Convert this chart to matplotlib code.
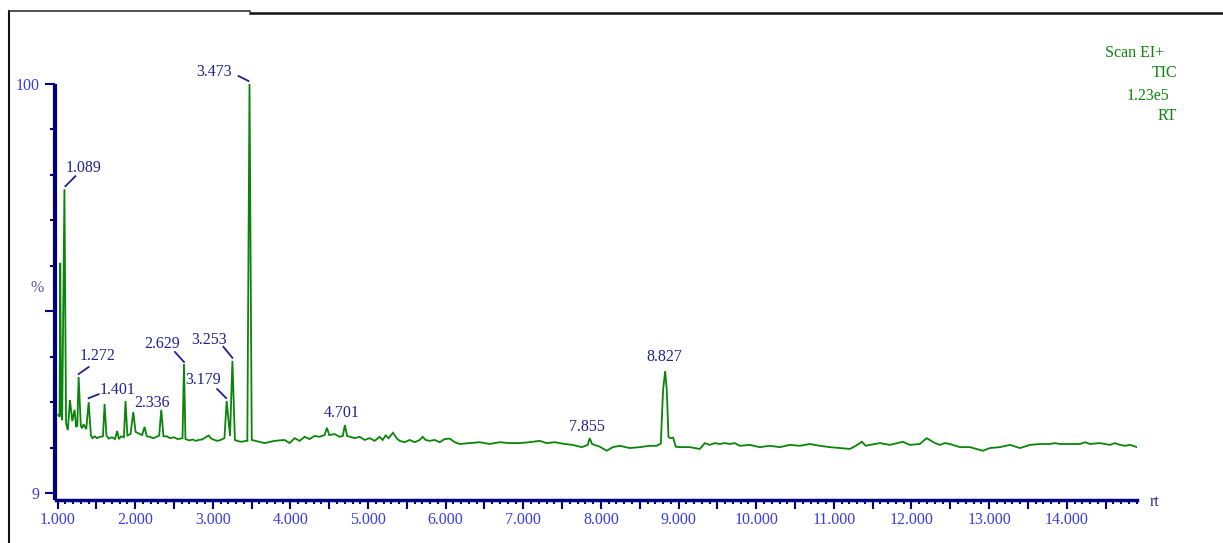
import numpy as np
import matplotlib
matplotlib.use('Agg')
import matplotlib.pyplot as plt
from matplotlib.lines import Line2D
from matplotlib.transforms import IdentityTransform
from matplotlib.ticker import MultipleLocator, FixedLocator, FuncFormatter

plt.rcParams['font.family'] = ['Liberation Serif', 'DejaVu Serif']

# retention time (min) and relative intensity (%)
rt = [1.009, 1.026, 1.035, 1.047, 1.060, 1.089, 1.110, 1.133, 1.160, 1.190,
      1.219, 1.240, 1.255, 1.272, 1.300, 1.318, 1.335, 1.348, 1.370, 1.401,
      1.430, 1.450, 1.480, 1.510, 1.545, 1.585, 1.606, 1.630, 1.660, 1.700,
      1.740, 1.769, 1.790, 1.820, 1.855, 1.876, 1.900, 1.940, 1.976, 2.005,
      2.050, 2.090, 2.121, 2.150, 2.190, 2.230, 2.265, 2.310, 2.336, 2.365,
      2.410, 2.450, 2.500, 2.545, 2.585, 2.610, 2.629, 2.648, 2.700, 2.740,
      2.780, 2.820, 2.860, 2.900, 2.946, 2.980, 3.020, 3.060, 3.100, 3.150,
      3.179, 3.222, 3.253, 3.285, 3.330, 3.380, 3.420, 3.445, 3.473, 3.502,
      3.550, 3.600,
      3.668, 3.796, 3.925, 3.990, 4.054, 4.119, 4.183, 4.247, 4.312, 4.376,
      4.440, 4.470, 4.500, 4.570, 4.634, 4.675, 4.701, 4.730, 4.827, 4.892,
      4.956, 5.021, 5.085, 5.149, 5.188, 5.227, 5.265, 5.321, 5.369, 5.407,
      5.472, 5.536, 5.601, 5.665, 5.704, 5.742, 5.794, 5.858, 5.923, 5.987,
      6.052, 6.116, 6.180, 6.309, 6.438, 6.567, 6.696, 6.825, 6.954, 7.082,
      7.211, 7.302, 7.405, 7.534, 7.637, 7.753, 7.830, 7.855, 7.885, 7.985,
      8.075, 8.152, 8.242, 8.371, 8.500, 8.629, 8.719, 8.771, 8.800, 8.827,
      8.848, 8.870, 8.892, 8.930, 8.964, 9.015,
      9.080, 9.144, 9.209, 9.273, 9.338, 9.402, 9.466, 9.531, 9.595, 9.660,
      9.724, 9.789, 9.918, 10.046, 10.175, 10.304, 10.433, 10.562, 10.691, 10.820,
      10.948, 11.077, 11.206, 11.284, 11.361, 11.412, 11.464, 11.593, 11.722, 11.889,
      11.979, 12.108, 12.195, 12.302, 12.366, 12.430, 12.495, 12.624, 12.753, 12.920,
      13.010, 13.139, 13.268, 13.397, 13.526, 13.655, 13.784, 13.848, 13.912, 14.041,
      14.170, 14.235, 14.299, 14.428, 14.557, 14.621, 14.686, 14.750, 14.814, 14.905]
pct = [26.4, 26.0, 60.2, 26.4, 25.2, 76.6, 24.5, 23.0, 29.7, 25.0,
       27.5, 23.7, 24.0, 34.8, 23.9, 23.4, 24.3, 23.9, 23.2, 29.2,
       21.8, 21.2, 21.6, 21.2, 21.5, 21.6, 28.8, 21.8, 21.1, 21.4,
       21.0, 22.8, 21.0, 21.6, 21.4, 29.45, 21.8, 22.1, 27.0, 22.6,
       22.2, 21.9, 23.7, 21.6, 21.5, 21.2, 21.4, 21.8, 27.5, 21.6,
       21.6, 21.2, 21.4, 21.0, 21.1, 21.2, 37.7, 21.0, 20.7, 20.9,
       20.6, 20.8, 20.9, 21.3, 21.8, 21.1, 20.8, 20.6, 20.8, 21.2,
       29.45, 21.7, 38.4, 20.8, 20.5, 20.4, 20.6, 20.6, 100.0, 20.8,
       20.6, 20.4,
       20.1, 20.6, 20.8, 20.1, 21.2, 20.6, 21.5, 21.0, 21.7, 21.5,
       21.9, 23.5, 21.9, 22.1, 21.5, 21.7, 24.1, 21.7, 21.2, 21.5,
       20.8, 21.2, 20.6, 21.5, 20.8, 21.8, 21.2, 22.4, 21.2, 20.6,
       20.3, 20.8, 20.3, 20.8, 21.5, 20.8, 20.6, 20.8, 20.3, 21.0,
       21.1, 20.3, 19.9, 20.1, 20.3, 19.9, 20.3, 20.1, 20.1, 20.3,
       20.6, 20.1, 20.3, 19.9, 19.7, 19.2, 19.7, 21.2, 19.9, 19.3,
       18.4, 19.2, 19.5, 19.0, 19.2, 19.5, 19.5, 20.0, 31.9, 36.1,
       31.9, 21.5, 21.2, 21.3, 19.3, 19.2,
       19.2, 19.2, 19.0, 18.8, 20.1, 19.7, 20.1, 19.9, 20.1, 19.9,
       20.1, 19.5, 19.7, 19.2, 19.5, 19.2, 19.7, 19.5, 19.9, 19.5,
       19.2, 19.0, 18.8, 19.5, 20.4, 19.5, 19.7, 20.1, 19.7, 20.4,
       19.7, 19.9, 21.2, 20.1, 19.7, 20.1, 19.9, 19.2, 19.2, 18.4,
       19.0, 19.2, 19.7, 19.0, 19.7, 19.9, 19.9, 20.1, 19.9, 19.9,
       19.9, 20.3, 19.9, 20.1, 19.7, 20.1, 19.7, 19.5, 19.7, 19.2]

peak_rt = [1.089, 1.272, 1.401, 2.336, 2.629, 3.179, 3.253, 3.473, 4.701, 7.855, 8.827]

# label text offset and leader segment, in pixels from the apex
label_off = [(19, 21), (19, 21), (29, 12), (-9, 7), (-22, 20), (-23.5, 21),
             (-23, 21), (-35, 12), (-3, 12), (-2.6, 11), (-1, 14)]
leader_seg = [((1, 3), (11, 13)), ((0, 3), (10, 10)), ((0, 4), (10, 8)), None,
              ((-9, 12), (0, 2)), ((-9.5, 12), (-0.5, 3)), ((-9, 14), (0, 3)),
              ((-11, 8), (-1, 3)), None, None, None]

W, H = 1223, 543
navy = '#000080'
green = '#0a850a'
tick_blue = '#3a3aee'
label_navy = '#202090'

fig = plt.figure(figsize=(W / 100, H / 100), dpi=100)
ax = fig.add_axes([55.5 / W, 1 - 500 / H, (1137 - 55.5) / W, (500 - 84) / H])

ax.plot(rt, pct, color=green, lw=1.3, solid_joinstyle='miter')

ax.set_xlim(0.974, 14.905)
ax.set_ylim(7.44, 100)

for s in ['top', 'right']:
    ax.spines[s].set_visible(False)
ax.spines['left'].set_linewidth(3.0)
ax.spines['bottom'].set_linewidth(2.5)
ax.spines['left'].set_color(navy)
ax.spines['bottom'].set_color(navy)
ax.spines['left'].set_capstyle('butt')

ax.xaxis.set_major_locator(MultipleLocator(0.5))
ax.xaxis.set_minor_locator(MultipleLocator(0.1))
ax.xaxis.set_major_formatter(FuncFormatter(
    lambda v, p: '%.3f' % v if abs(v - round(v)) < 1e-6 else ''))

ystep = 91.0 / 9
ax.yaxis.set_major_locator(FixedLocator([9, 9 + 4 * ystep, 100]))
ax.yaxis.set_minor_locator(FixedLocator([9 + k * ystep for k in range(10)]))
ax.yaxis.set_major_formatter(FuncFormatter(
    lambda v, p: '100' if v > 99 else ('9' if v < 10 else '')))

ax.tick_params(axis='x', which='major', length=6.5, width=1.5, color=navy,
               labelsize=11.5, labelcolor=tick_blue, pad=2.5)
ax.tick_params(axis='x', which='minor', length=3, width=1.5, color=navy)
ax.tick_params(axis='y', which='major', length=7.2, width=1.5, color=navy,
               labelsize=11.5, labelcolor=tick_blue, pad=4)
ax.tick_params(axis='y', which='minor', length=3.6, width=1.5, color=navy)

fig.canvas.draw()
for r, (dx, dy), seg in zip(peak_rt, label_off, leader_seg):
    h = np.interp(r, rt, pct)
    ax.annotate('%.3f' % r, xy=(r, h), xytext=(dx, dy), textcoords='offset pixels',
                ha='center', va='center', fontsize=11.5, color=label_navy,
                annotation_clip=False)
    if seg is not None:
        px, py = ax.transData.transform((r, h))
        (a, b), (c, d) = seg
        fig.add_artist(Line2D([px + a, px + c], [py + b, py + d],
                              transform=IdentityTransform(), color=label_navy, lw=1.3))

fig.text(37 / W, 1 - 288 / H, '%', ha='center', va='center', fontsize=11.5, color='#5a5aae')
fig.text(1150 / W, 1 - 502 / H, 'rt', ha='left', va='center', fontsize=11.5, color='#2a2a8a')

fig.text(1164 / W, 1 - 53 / H, 'Scan EI+', ha='right', va='center', fontsize=11.5, color=green)
fig.text(1177 / W, 1 - 73 / H, 'TIC', ha='right', va='center', fontsize=11.5, color=green)
fig.text(1169 / W, 1 - 96 / H, '1.23e5', ha='right', va='center', fontsize=11.5, color=green)
fig.text(1177 / W, 1 - 116 / H, 'RT', ha='right', va='center', fontsize=11.5, color=green)

# page frame
fig.add_artist(Line2D([9 / W, 9 / W], [0, 1 - 11 / H], transform=fig.transFigure, color='#111111', lw=1.5))
fig.add_artist(Line2D([9 / W, 250 / W], [1 - 11 / H, 1 - 11 / H], transform=fig.transFigure, color='#333333', lw=1.2))
fig.add_artist(Line2D([250 / W, 1], [1 - 12.5 / H, 1 - 12.5 / H], transform=fig.transFigure, color='#111111', lw=1.8))

fig.savefig('out.png', dpi=100)
